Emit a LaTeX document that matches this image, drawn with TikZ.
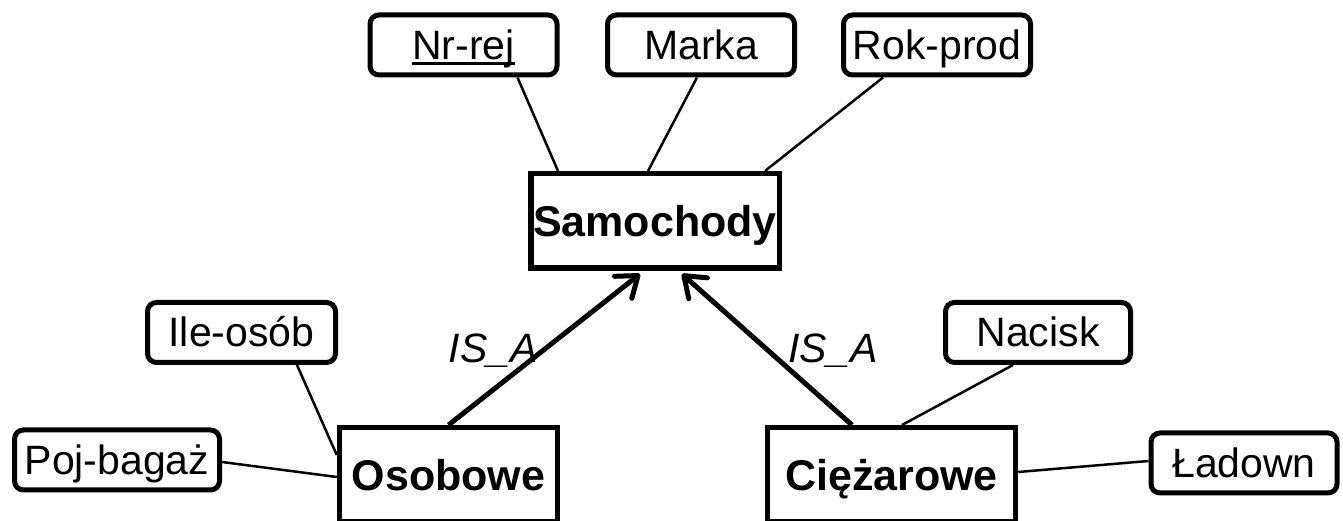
\documentclass[tikz,border=0pt]{standalone}
\usepackage{fontspec}
\setmainfont{Liberation Sans}
\usetikzlibrary{arrows.meta}
\newcommand{\attrfont}{\fontsize{41}{48}\selectfont}
\newcommand{\entfont}{\fontsize{43}{51}\selectfont\bfseries}
\newcommand{\ulx}[1]{\setbox0=\hbox{#1}\rlap{\rule[-5.5pt]{\wd0}{2.8pt}}\box0}
\begin{document}
\begin{tikzpicture}[x=1pt,y=1pt,
  attr/.style={draw, line width=5pt, rounded corners=9pt, minimum width=187pt,
    minimum height=60pt, inner sep=0pt, text height=29pt, text depth=0pt, font=\attrfont},
  ent/.style={draw, line width=5.5pt, minimum height=94.5pt, inner sep=0pt,
    text height=31pt, text depth=0pt, font=\entfont},
  conn/.style={line width=2.5pt},
  isa/.style={line width=5pt, line join=round, -{Straight Barb[length=19pt,width=28pt,round]}},
  lbl/.style={font=\attrfont\itshape, inner sep=0pt}]
\clip (0,0) rectangle (1343,521);
% attributes of Samochody
\node[attr] (nr) at (463.5,476) {\ulx{Nr-rej}};
\node[attr] (marka) at (701,476) {Marka};
\node[attr] (rok) at (937,476) {Rok-prod};
% entities
\node[ent, minimum width=248.5pt] (sam) at (655,300) {Samochody};
\node[ent, minimum width=218pt] (osob) at (448.5,46) {Osobowe};
\node[ent, minimum width=248pt] (ciez) at (891.5,46) {Ciężarowe};
% attributes of subclasses
\node[attr, minimum width=188pt] (ile) at (241.5,188.5) {Ile-osób};
\node[attr, minimum width=205pt] (poj) at (117,61) {Poj-bagaż};
\node[attr, minimum width=185pt] (nac) at (1038,188.5) {Nacisk};
\node[attr, minimum width=186pt] (lad) at (1244,58) {Ładown};
% connectors
\draw[conn] ([xshift=54pt]nr.south) -- ([xshift=-97pt]sam.north);
\draw[conn] ([xshift=-4pt]marka.south) -- ([xshift=-7pt]sam.north);
\draw[conn] ([xshift=-54pt]rok.south) -- ([xshift=110pt]sam.north);
\draw[conn] ([xshift=55.5pt]ile.south) -- ([yshift=20pt]osob.west);
\draw[conn] ([yshift=-2pt]poj.east) -- ([yshift=-2pt]osob.west);
\draw[conn] ([xshift=-25pt]nac.south) -- ([xshift=10.5pt]ciez.north);
\draw[conn] ([yshift=3pt]ciez.east) -- ([yshift=2pt]lad.west);
% IS_A arrows
\draw[isa] (osob.north) -- node[lbl, pos=0.5, anchor=east, xshift=-4pt, yshift=-1pt] (isa1) {IS\_A} ([xshift=-15pt,yshift=-3pt]sam.south);
\draw[isa] ([xshift=-39.5pt]ciez.north) -- node[lbl, pos=0.5, anchor=west, xshift=19pt, yshift=-1pt] (isa2) {IS\_A} ([xshift=27pt,yshift=-3pt]sam.south);
\end{tikzpicture}
\end{document}
